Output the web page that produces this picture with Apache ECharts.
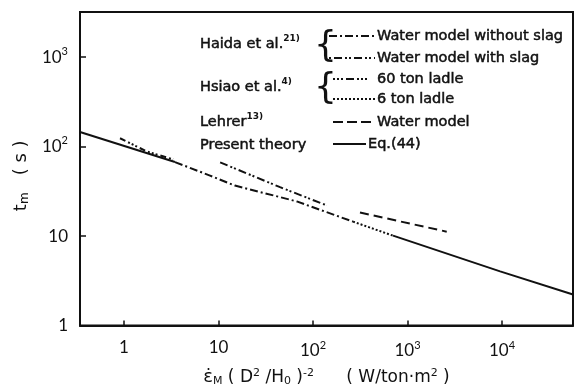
<!DOCTYPE html>
<html><head><meta charset="utf-8">
<script src="https://cdn.jsdelivr.net/npm/echarts@6/dist/echarts.min.js"></script>
<style>html,body{margin:0;padding:0;background:#fff}#c{width:579px;height:392px}</style>
</head><body><div id="c"></div>
<script>
// tick values
const xTickValues = [1, 10, 100, 1000, 10000];
const yTickValues = [1, 10, 100, 1000];
// series data (x = eps*(D^2/H0)^-2, y = t_m)
const theoryAX = [0.342, 3.46];
const theoryAY = [145.5, 67.2];
const theoryBX = [703, 9550, 56400];
const theoryBY = [10.1, 4.03, 2.22];
const haidaNoSlagX = [3.46, 8.13, 14.9, 67.2, 265];
const haidaNoSlagY = [67.2, 47.4, 36.7, 24.4, 14.5];
const haidaSlagX = [10.4, 44.8, 140];
const haidaSlagY = [66.7, 35.2, 22.0];
const hsiao60X = [0.907, 1.74, 3.3];
const hsiao60Y = [124, 88.3, 72];
const hsiao6X = [265, 703];
const hsiao6Y = [14.5, 10.1];
const lehrerX = [314, 2600];
const lehrerY = [18.3, 11.2];

const zip = (xs, ys) => xs.map((x, i) => [x, ys[i]]);
function fmt(v, list) {
  const hit = list.find(t => Math.abs(t - v) / t < 1e-6);
  if (hit === undefined) return '';
  const e = Math.round(Math.log10(hit));
  if (e === 0) return '{b|1}';
  if (e === 1) return '{b|10}';
  return '{b|10}{s|' + e + '}';
}
const richLab = {
  b: {fontFamily: 'Lato', fontSize: 17, color: '#111'},
  s: {fontFamily: 'Lato', fontSize: 11, color: '#111', padding: [0, 0, 12, 0]}
};
const FONT = 'DejaVu Sans';
const lineSeries = (name, xs, ys, type) => ({
  name, type: 'line', data: zip(xs, ys), symbol: 'none', silent: true,
  lineStyle: {color: '#111', width: 2, type: type}
});

const chart = echarts.init(document.getElementById('c'), null, {renderer: 'canvas'});
const legY = [36, 58, 79, 99, 122, 144];
const g = [];
function legLine(y, x1, x2, type) {
  g.push({type: 'line', shape: {x1, y1: y, x2, y2: y}, style: {stroke: '#111', lineWidth: 2, lineDash: type}});
}
const legRich = {
  n: {fontFamily: FONT, fontSize: 14.5, fill: '#111', stroke: '#111', lineWidth: 0.5},
  s: {fontFamily: FONT, fontSize: 9, fontWeight: 'bold', fill: '#111', padding: [0, 0, 10, 0]}
};
function txt(x, y, t, extra) {
  g.push({type: 'text', x, y, style: Object.assign({text: t, rich: legRich, textVerticalAlign: 'middle', fill: '#111'}, extra || {})});
}
txt(200, 44, '{n|Haida et al.}{s|21)}');
txt(200, 87, '{n|Hsiao et al.}{s|4)}');
txt(200, 122, '{n|Lehrer}{s|13)}');
txt(200, 145, '{n|Present theory}');
g.push({type: 'text', x: 314, y: 47, style: {text: '{', fontFamily: 'DejaVu Sans', fontWeight: 'normal', fontSize: 36, fill: '#111', textVerticalAlign: 'middle'}});
g.push({type: 'text', x: 314, y: 89, style: {text: '{', fontFamily: 'DejaVu Sans', fontWeight: 'normal', fontSize: 36, fill: '#111', textVerticalAlign: 'middle'}});
legLine(legY[0], 324, 375, [2, 3, 8, 3]);
legLine(legY[1], 325, 375, [2, 2, 2, 3, 8, 3]);
legLine(legY[2], 333, 370, [2, 2, 2, 2, 2, 3, 8, 3]);
legLine(legY[3], 333, 375, [2, 2]);
legLine(legY[4], 333, 375, [10, 4]);
legLine(legY[5], 333, 366, null);
txt(377, legY[0], '{n|Water model without slag}');
txt(377, legY[1], '{n|Water model with slag}');
txt(377, legY[2], '{n|60 ton ladle}');
txt(377, legY[3], '{n|6 ton ladle}');
txt(377, legY[4], '{n|Water model}');
txt(368, legY[5], '{n|Eq.(44)}');

chart.setOption({
  animation: false,
  backgroundColor: '#fff',
  grid: {left: 80, right: 6, top: 12, bottom: 64, show: true, borderColor: '#111', borderWidth: 2},
  xAxis: {
    type: 'log', logBase: 10, min: 0.342, max: 56400,
    axisLine: {show: true, lineStyle: {color: '#111', width: 2}},
    axisTick: {show: true, inside: true, length: 5, lineStyle: {color: '#111', width: 1.5}},
    axisLabel: {margin: 14, formatter: v => fmt(v, xTickValues), rich: richLab},
    splitLine: {show: false},
    name: '{e|ε̇}{sb|M}{n| ( D}{sp|2}{n| /H}{sb|0}{n| )}{sp|-2}{n|      ( W/ton·m}{sp|2}{n| )}',
    nameLocation: 'middle', nameGap: 42,
    nameTextStyle: {
      rich: {
        e: {fontFamily: FONT, fontSize: 18, color: '#111'},
        n: {fontFamily: FONT, fontSize: 17, color: '#111'},
        sb: {fontFamily: FONT, fontSize: 11, color: '#111', padding: [8, 0, 0, 0]},
        sp: {fontFamily: FONT, fontSize: 11, color: '#111', padding: [0, 0, 9, 0]}
      }
    }
  },
  yAxis: {
    type: 'log', logBase: 10, min: 1, max: 3200,
    axisLine: {show: true, lineStyle: {color: '#111', width: 2}},
    axisTick: {show: true, inside: true, length: 6, lineStyle: {color: '#111', width: 1.5}},
    axisLabel: {margin: 12, formatter: v => fmt(v, yTickValues), rich: richLab},
    splitLine: {show: false},
    name: '{t|t}{sb|m}{n|   ( s )}', nameLocation: 'middle', nameGap: 46, nameRotate: 90,
    nameTextStyle: {
      padding: [0, 14, 0, 0],
      rich: {
        t: {fontFamily: FONT, fontSize: 18, color: '#111'},
        n: {fontFamily: FONT, fontSize: 18, color: '#111'},
        sb: {fontFamily: FONT, fontSize: 12, color: '#111', padding: [8, 0, 0, 0]}
      }
    }
  },
  series: [
    lineSeries('Present theory A', theoryAX, theoryAY, 'solid'),
    lineSeries('Present theory B', theoryBX, theoryBY, 'solid'),
    lineSeries('Haida without slag', haidaNoSlagX, haidaNoSlagY, [8, 3, 2, 3]),
    lineSeries('Haida with slag', haidaSlagX, haidaSlagY, [8, 3, 2, 2, 2, 3]),
    lineSeries('Hsiao 60 ton', hsiao60X, hsiao60Y, [6, 3, 2, 2, 2, 2, 2, 3]),
    lineSeries('Hsiao 6 ton', hsiao6X, hsiao6Y, [2, 2]),
    lineSeries('Lehrer', lehrerX, lehrerY, [9, 5])
  ],
  graphic: g
});
</script></body></html>
